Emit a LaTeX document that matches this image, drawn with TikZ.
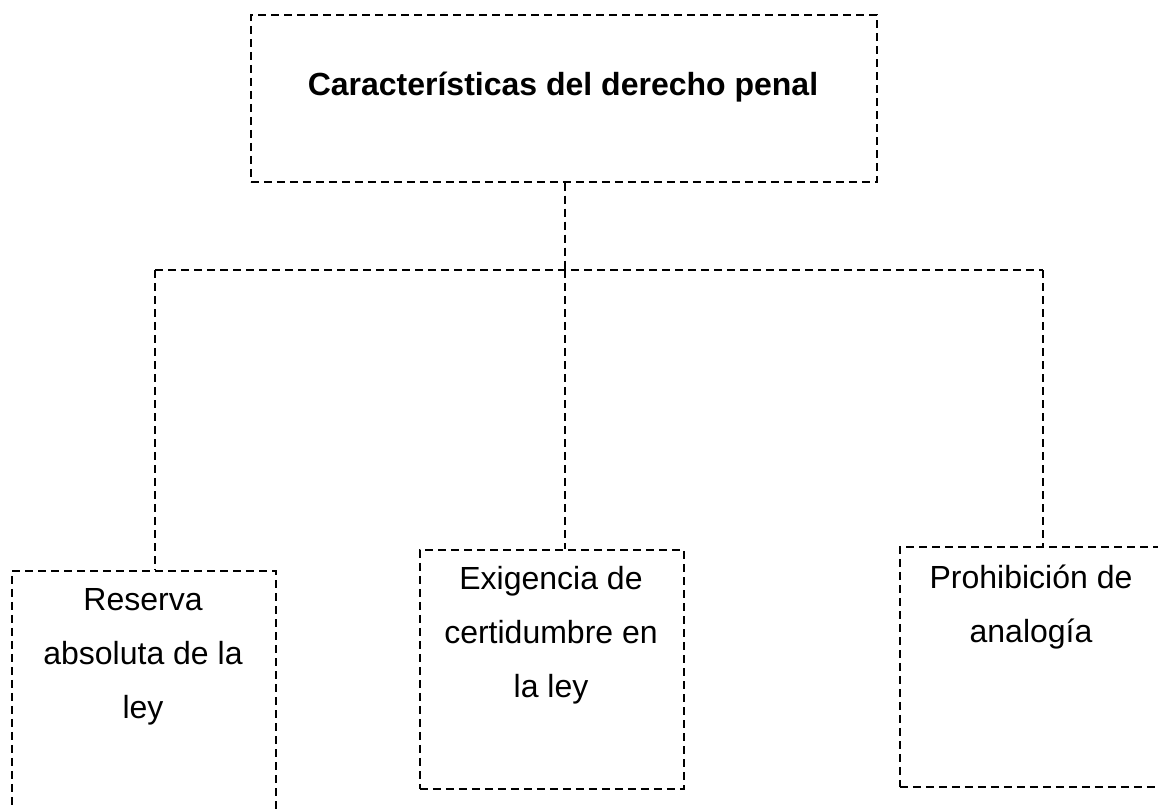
\documentclass[tikz,border=0pt]{standalone}
\usepackage{fontspec}
\setmainfont{Liberation Sans}
\begin{document}
\begin{tikzpicture}[x=1pt,y=-1pt,
  dline/.style={line width=1.6pt, dash pattern=on 8pt off 5pt},
  dbox/.style={draw, dline, rectangle, inner sep=0pt, anchor=north west},
  txt/.style={font=\fontsize{32}{54}\selectfont, align=center, inner sep=0pt, anchor=north}]
\useasboundingbox (0,0) rectangle (1158,808);
\clip (0,0) rectangle (1158,808);
% boxes
\node[dbox, minimum width=626pt, minimum height=167pt] (t) at (250,14) {};
\node[dbox, minimum width=264pt, minimum height=260pt] (b1) at (11,570) {};
\node[dbox, minimum width=264pt, minimum height=239pt] (b2) at (419,549) {};
\node[dbox, minimum width=264pt, minimum height=240pt] (b3) at (899,546) {};
% texts
\node[font=\bfseries\fontsize{32}{38}\selectfont, inner sep=0pt, anchor=base] (tt) at (563,95) {Características del derecho penal};
\node[txt] (l1) at (143,588) {Reserva\\absoluta de la\\ley};
\node[txt] (l2) at (551,566) {Exigencia de\\certidumbre en\\la ley};
\node[txt] (l3) at (1031,565) {Prohibición de\\analogía};
% connectors
\coordinate (j) at (565,270);
\coordinate (jl) at (155,270);
\coordinate (jr) at (1043,270);
\draw[dline] (j |- t.south) -- (j);
\draw[dline] (jl) -- (jr);
\draw[dline] (jl) -- (jl |- b1.north);
\draw[dline] (j) -- (j |- b2.north);
\draw[dline] (jr) -- (jr |- b3.north);
\end{tikzpicture}
\end{document}
